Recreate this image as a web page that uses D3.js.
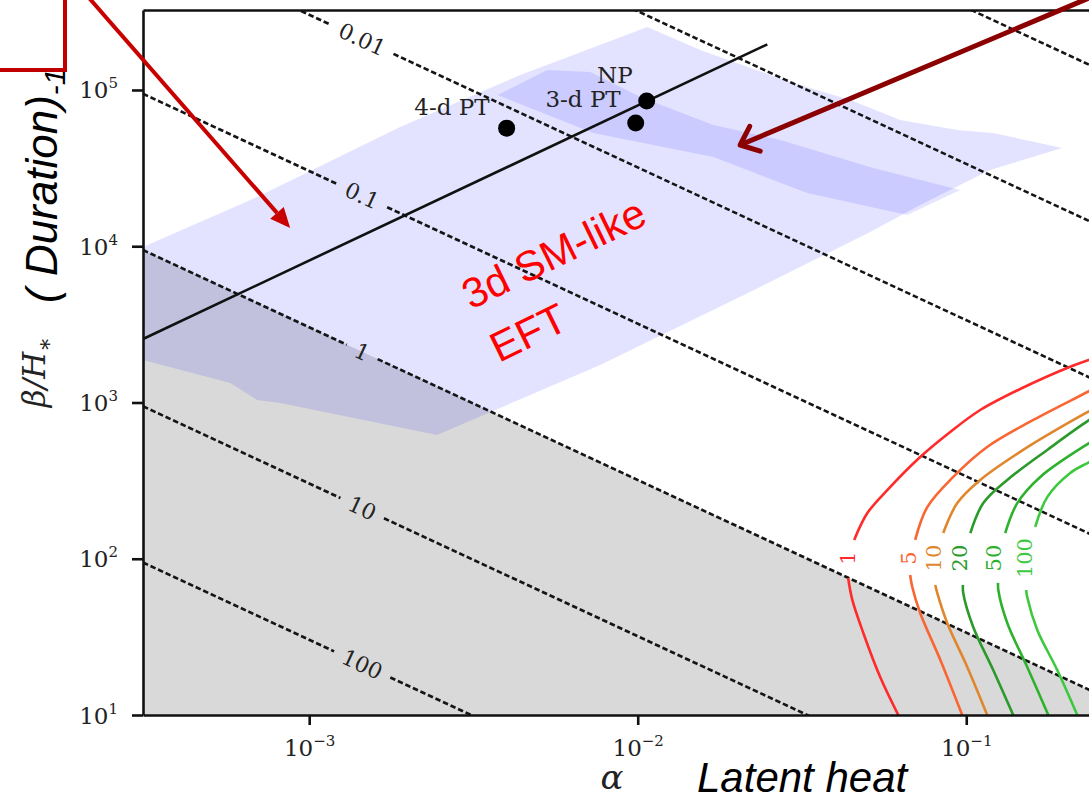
<!DOCTYPE html>
<html>
<head>
<meta charset="utf-8">
<script src="https://cdn.jsdelivr.net/npm/d3@7/dist/d3.min.js"></script>
<style>
  body { margin: 0; background: #fff; }
  svg { display: block; }
  .serif { font-family: "DejaVu Serif", "Liberation Serif", serif; fill: #222; }
  .sans { font-family: "Liberation Sans", Arial, sans-serif; }
</style>
</head>
<body>
<div class="main-container"></div>
<script>
// axis ranges: alpha (latent heat) and beta/H* (inverse duration)
const alphaRange = [3.12e-4, 0.3];
const betaRange = [10, 3.25e5];
const xTickValues = [1e-3, 1e-2, 1e-1];
const xTickExp = ["\u22123", "\u22122", "\u22121"];
const yTickValues = [1e1, 1e2, 1e3, 1e4, 1e5];
const yTickExp = ["1", "2", "3", "4", "5"];

// dashed iso-lines (straight in log-log)
const isoLevels = ["0.0001", "0.001", "0.01", "0.1", "1", "10", "100"];
const isoLabelled = [false, false, true, true, true, true, true];
const isoAlphaEnds = [3.12e-4, 0.3];
const isoBetaStart = [9.46e7, 9.46e6, 9.46e5, 9.46e4, 9460, 946, 94.6];
const isoBetaEnd = [1.15e5, 1.15e4, 1150, 115, 11.5, 1.15, 0.115];
const isoLabelAlpha = 1.45e-3;
const grayLevel = "1";   // region below this iso-line is shaded gray

// light lavender band
const bandAlpha = [3.12e-4, 6.94e-4, 1.89e-3, 4.39e-3, 1.07e-2, 1.55e-2, 2.91e-2, 4.44e-2, 6.30e-2, 0.0939, 0.1208, 0.196,
  0.1183, 0.0724, 0.0510, 0.0236, 7.69e-3, 2.45e-3, 8.16e-4, 6.94e-4, 5.75e-4, 3.12e-4];
const bandBeta = [9890, 20660, 57970, 124700, 253000, 180300, 112500, 86300, 64270, 55460, 53060, 42540,
  30760, 18370, 12340, 5485, 1738, 619, 993, 1038, 1333, 1871];

// darker inner band
const coreAlpha = [3.74e-3, 5.30e-3, 7.17e-3, 1.02e-2, 1.70e-2, 2.72e-2, 5.21e-2, 9.59e-2, 6.61e-2, 3.28e-2, 1.70e-2, 7.32e-3];
const coreBeta = [92900, 134300, 130400, 90200, 59700, 47860, 31680, 22910, 15850, 21920, 37260, 53060];

// solid line
const lineAlpha = [3.12e-4, 0.0248];
const lineBeta = [2550, 1.96e5];

// benchmark points
const pointNames = ["4-d PT", "3-d PT", "NP"];
const pointAlpha = [3.99e-3, 9.86e-3, 1.065e-2];
const pointBeta = [5.7e4, 6.15e4, 8.5e4];

// coloured contours, each split in a lower and an upper branch
const snrLevels = ["1", "5", "10", "20", "50", "100"];
const snrLowerAlpha = [
  [0.0621, 0.0547, 0.0486, 0.0450, 0.0437],
  [0.0972, 0.0834, 0.0724, 0.0685, 0.0675],
  [0.1158, 0.1007, 0.0875, 0.0816, 0.0805],
  [0.139, 0.1208, 0.105, 0.0979, 0.0977],
  [0.1777, 0.1533, 0.1333, 0.1252, 0.1250],
  [0.2177, 0.1892, 0.1645, 0.1533, 0.1522]];
const snrLowerBeta = [
  [10, 17.5, 33.5, 54.5, 75.3],
  [10, 22.5, 45.0, 65.9, 78.7],
  [10, 20.3, 38.8, 60.4, 67.9],
  [10, 19.4, 36.6, 60.4, 67.9],
  [10, 20.3, 38.8, 63.1, 70.0],
  [10, 19.4, 35.0, 56.9, 63.1]];
const snrUpperAlpha = [
  [0.0456, 0.0500, 0.0575, 0.0724, 0.0894, 0.1103, 0.148, 0.210, 0.256],
  [0.0699, 0.0761, 0.0913, 0.1158, 0.160, 0.237, 0.274],
  [0.0851, 0.0939, 0.1103, 0.149, 0.212, 0.274],
  [0.1029, 0.1127, 0.1333, 0.1764, 0.237, 0.284],
  [0.1314, 0.143, 0.168, 0.237, 0.294],
  [0.1622, 0.1764, 0.2073, 0.237, 0.294]];
const snrUpperBeta = [
  [132, 196, 275, 448, 648, 895, 1238, 1713, 1984],
  [132, 214, 334, 519, 773, 1185, 1393],
  [146, 227, 319, 497, 773, 1038],
  [146, 227, 319, 497, 773, 964],
  [146, 227, 334, 551, 718],
  [160, 248, 354, 416, 535]];
const snrLabelAlpha = [0.0434, 0.0666, 0.0793, 0.0952, 0.1208, 0.1502];
const snrLabelBeta = 101;
const snrColors = ["#ff2a2a", "#fa6632", "#e0862c", "#2a9a2a", "#2eb22e", "#3ec83e"];

// annotation arrows (data coordinates, tails run off the frame)
const arrowTail = [[2.01e-4, 4.5e5], [0.2744, 4.43e5]];
const arrowTip = [[8.75e-4, 13090], [0.0205, 44460]];

const width = 1089, height = 800;
const margin = {top: 10, left: 143, bottom: 85};

const svg = d3.select(".main-container")
  .append("svg")
  .attr("width", width)
  .attr("height", height)
  .style("background", "#fff");

const x = d3.scaleLog().domain(alphaRange).range([margin.left, 1123]);
const y = d3.scaleLog().domain(betaRange).range([height - margin.bottom, margin.top]);

svg.append("defs").append("clipPath")
  .attr("id", "plot-clip")
  .append("rect")
  .attr("x", x.range()[0])
  .attr("y", y.range()[1])
  .attr("width", x.range()[1] - x.range()[0])
  .attr("height", y.range()[0] - y.range()[1]);

const plot = svg.append("g").attr("clip-path", "url(#plot-clip)");

const poly = d3.line().x(d => x(d[0])).y(d => y(d[1]));

// gray region below the "1" iso-line
const gi = isoLevels.indexOf(grayLevel);
plot.append("path")
  .attr("d", poly([
    [isoAlphaEnds[0], isoBetaStart[gi]],
    [isoAlphaEnds[1], isoBetaEnd[gi]],
    [isoAlphaEnds[1], betaRange[0] / 2],
    [isoAlphaEnds[0], betaRange[0] / 2]]) + "Z")
  .attr("fill", "#d9d9d9");

plot.append("path")
  .attr("d", poly(d3.zip(bandAlpha, bandBeta)) + "Z")
  .attr("fill", "#0000ff")
  .attr("fill-opacity", 0.11);

plot.append("path")
  .attr("d", poly(d3.zip(coreAlpha, coreBeta)) + "Z")
  .attr("fill", "#0000ff")
  .attr("fill-opacity", 0.1);

// dashed iso-lines with inline labels
const isoLabels = svg.append("g");
isoLevels.forEach((lev, i) => {
  const p0 = [x(isoAlphaEnds[0]), y(isoBetaStart[i])];
  const p1 = [x(isoAlphaEnds[1]), y(isoBetaEnd[i])];
  let segs = [[p0, p1]];
  if (isoLabelled[i]) {
    const t = (x(isoLabelAlpha) - p0[0]) / (p1[0] - p0[0]);
    const c = [p0[0] + t * (p1[0] - p0[0]), p0[1] + t * (p1[1] - p0[1])];
    const ang = Math.atan2(p1[1] - p0[1], p1[0] - p0[0]);
    const lab = isoLabels.append("text")
      .attr("class", "serif")
      .attr("transform", `translate(${c[0]},${c[1]}) rotate(${ang * 180 / Math.PI})`)
      .attr("text-anchor", "middle")
      .attr("dy", "0.35em")
      .style("font-size", "22px")
      .text(lev);
    const half = lab.node().getComputedTextLength() / 2 + 10;
    const ux = Math.cos(ang), uy = Math.sin(ang);
    segs = [[p0, [c[0] - half * ux, c[1] - half * uy]], [[c[0] + half * ux, c[1] + half * uy], p1]];
  }
  segs.forEach(s => {
    plot.append("path")
      .attr("d", d3.line()(s))
      .attr("fill", "none")
      .attr("stroke", "#151515")
      .attr("stroke-width", 2.6)
      .attr("stroke-dasharray", "5.5,2.8");
  });
});

// coloured contours
const curve = d3.line().x(d => x(d[0])).y(d => y(d[1])).curve(d3.curveCatmullRom);
snrLevels.forEach((lev, i) => {
  [d3.zip(snrLowerAlpha[i], snrLowerBeta[i]), d3.zip(snrUpperAlpha[i], snrUpperBeta[i])].forEach(pts => {
    plot.append("path")
      .attr("d", curve(pts))
      .attr("fill", "none")
      .attr("stroke", snrColors[i])
      .attr("stroke-width", 2.6);
  });
  svg.append("text")
    .attr("class", "serif")
    .attr("transform", `translate(${x(snrLabelAlpha[i])},${y(snrLabelBeta)}) rotate(-90)`)
    .attr("text-anchor", "middle")
    .attr("dy", "0.35em")
    .style("font-size", "21px")
    .style("fill", snrColors[i])
    .text(lev);
});

// solid line
plot.append("path")
  .attr("d", poly(d3.zip(lineAlpha, lineBeta)))
  .attr("fill", "none")
  .attr("stroke", "#111")
  .attr("stroke-width", 2.6);

// points + labels
const labelShift = {"4-d PT": [-17, -13], "3-d PT": [-15, -16], "NP": [-14, -18]};
pointNames.forEach((nm, i) => {
  const px = x(pointAlpha[i]), py = y(pointBeta[i]);
  svg.append("circle")
    .attr("cx", px).attr("cy", py).attr("r", 8.5)
    .attr("fill", "#000");
  svg.append("text")
    .attr("class", "serif")
    .attr("x", px + labelShift[nm][0])
    .attr("y", py + labelShift[nm][1])
    .attr("text-anchor", "end")
    .style("font-size", "23px")
    .text(nm);
});

// axes
const yAxis = svg.append("g")
  .attr("transform", `translate(${x.range()[0]},0)`)
  .call(d3.axisLeft(y).tickValues(yTickValues).tickSize(11).tickSizeOuter(0).tickFormat(""));
const xAxis = svg.append("g")
  .attr("transform", `translate(0,${y.range()[0]})`)
  .call(d3.axisBottom(x).tickValues(xTickValues).tickSize(10).tickSizeOuter(0).tickFormat(""));
const topAxis = svg.append("g")
  .attr("transform", `translate(0,${y.range()[1]})`)
  .call(d3.axisTop(x).tickValues([]).tickSizeOuter(0));

[yAxis, xAxis, topAxis].forEach(a => {
  a.selectAll("path, line").attr("stroke", "#111").attr("stroke-width", 2.6);
});

yAxis.selectAll(".tick").each(function(d, i) {
  const t = d3.select(this).append("text")
    .attr("class", "serif")
    .attr("x", -25)
    .attr("y", 8)
    .attr("text-anchor", "end")
    .style("font-size", "23px");
  t.append("tspan").text("10");
  t.append("tspan").attr("dy", -10).style("font-size", "15px").text(yTickExp[i]);
});

xAxis.selectAll(".tick").each(function(d, i) {
  const t = d3.select(this).append("text")
    .attr("class", "serif")
    .attr("y", 41)
    .attr("text-anchor", "middle")
    .style("font-size", "23px");
  t.append("tspan").text("10");
  t.append("tspan").attr("dy", -10).style("font-size", "15px").text(xTickExp[i]);
});

// axis labels
svg.append("text")
  .attr("class", "serif")
  .attr("x", 612)
  .attr("y", 789)
  .attr("text-anchor", "middle")
  .style("font-size", "34px")
  .style("font-style", "italic")
  .text("\u03b1");

const yl = svg.append("text")
  .attr("class", "serif")
  .attr("transform", "translate(45,372) rotate(-90)")
  .attr("text-anchor", "middle")
  .style("font-size", "31px")
  .style("font-style", "italic");
yl.append("tspan").text("\u03b2/H");
yl.append("tspan").attr("dy", 7).style("font-size", "22px").text("\u2217");

// annotations
svg.append("text")
  .attr("class", "sans")
  .attr("x", 697)
  .attr("y", 792)
  .style("font-size", "42px")
  .style("font-style", "italic")
  .style("fill", "#000")
  .text("Latent heat");

const dur = svg.append("text")
  .attr("class", "sans")
  .attr("transform", "translate(57,303) rotate(-90)")
  .style("font-size", "44px")
  .style("font-style", "italic")
  .style("fill", "#000");
dur.append("tspan").text("( Duration)");
dur.append("tspan").attr("dy", 8).style("font-size", "30px").text("-1");

const eft = svg.append("g")
  .attr("transform", "translate(471,310) rotate(-26)")
  .attr("class", "sans")
  .style("font-size", "42px")
  .style("fill", "#ff0000");
eft.append("text").text("3d SM-like");
eft.append("text").attr("y", 60).attr("x", 2).text("EFT");

svg.append("rect")
  .attr("x", -10).attr("y", -10)
  .attr("width", 75).attr("height", 80)
  .attr("fill", "none")
  .attr("stroke", "#c00000")
  .attr("stroke-width", 4);

// arrow 1: filled head
{
  const a = [x(arrowTail[0][0]), y(arrowTail[0][1])], b = [x(arrowTip[0][0]), y(arrowTip[0][1])];
  const ang = Math.atan2(b[1] - a[1], b[0] - a[0]);
  const headLen = 20, headW = 9;
  const base = [b[0] - headLen * Math.cos(ang), b[1] - headLen * Math.sin(ang)];
  svg.append("path")
    .attr("d", d3.line()([a, base]))
    .attr("stroke", "#c80000")
    .attr("stroke-width", 4)
    .attr("fill", "none");
  const nx = -Math.sin(ang), ny = Math.cos(ang);
  svg.append("path")
    .attr("d", d3.line()([b, [base[0] + headW * nx, base[1] + headW * ny], [base[0] - headW * nx, base[1] - headW * ny]]) + "Z")
    .attr("fill", "#c80000");
}

// arrow 2: open chevron head
{
  const a = [x(arrowTail[1][0]), y(arrowTail[1][1])], b = [x(arrowTip[1][0]), y(arrowTip[1][1])];
  const back = Math.atan2(a[1] - b[1], a[0] - b[0]);
  const arm = 21, spread = 40 * Math.PI / 180;
  svg.append("path")
    .attr("d", d3.line()([a, b]))
    .attr("stroke", "#8b0000")
    .attr("stroke-width", 5)
    .attr("fill", "none");
  svg.append("path")
    .attr("d", d3.line()([
      [b[0] + arm * Math.cos(back + spread), b[1] + arm * Math.sin(back + spread)],
      b,
      [b[0] + arm * Math.cos(back - spread), b[1] + arm * Math.sin(back - spread)]]))
    .attr("stroke", "#8b0000")
    .attr("stroke-width", 5)
    .attr("stroke-linecap", "round")
    .attr("stroke-linejoin", "round")
    .attr("fill", "none");
}
</script>
</body>
</html>
